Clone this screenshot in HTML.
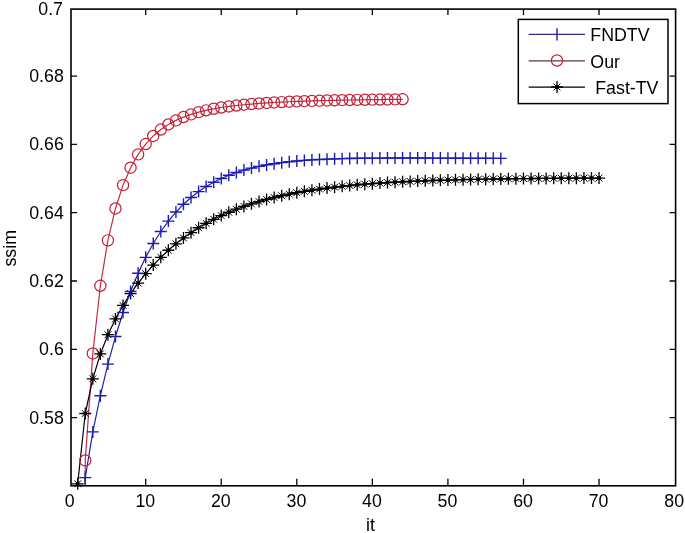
<!DOCTYPE html>
<html><head><meta charset="utf-8"><style>
html,body{margin:0;padding:0;background:#fff;}
svg{display:block;will-change:transform;}
text{font-family:"Liberation Sans",sans-serif;font-size:17.8px;fill:#000;}
</style></head><body>
<svg width="685" height="533" viewBox="0 0 685 533">
<defs><clipPath id="cp"><rect x="71.0" y="9.1" width="604.6" height="476.7"/></clipPath></defs>
<rect width="685" height="533" fill="#fff"/>

<g clip-path="url(#cp)" fill="none" stroke-width="1.2" stroke-linejoin="round">
<polyline points="77.70,1600.00 85.25,460.46 92.81,353.47 100.36,285.76 107.92,240.37 115.47,208.45 123.03,185.16 130.58,167.71 138.14,154.38 145.70,144.05 153.25,135.96 160.81,129.57 168.36,124.47 175.92,120.38 183.47,117.07 191.03,114.38 198.59,112.16 206.14,110.33 213.70,108.81 221.25,107.52 228.81,106.44 236.36,105.52 243.92,104.73 251.47,104.04 259.03,103.45 266.59,102.94 274.14,102.48 281.70,102.08 289.25,101.73 296.81,101.42 304.36,101.14 311.92,100.90 319.47,100.67 327.03,100.48 334.59,100.30 342.14,100.14 349.70,100.00 357.25,99.87 364.81,99.75 372.36,99.65 379.92,99.55 387.48,99.47 395.03,99.39 402.59,99.32" stroke="#c42a40"/>
<polyline points="77.70,483.80 85.25,413.50 92.81,378.87 100.36,353.96 107.92,334.69 115.47,318.90 123.03,305.42 130.58,293.62 138.14,283.10 145.70,273.64 153.25,265.08 160.81,257.31 168.36,250.25 175.92,243.82 183.47,237.96 191.03,232.63 198.59,227.76 206.14,223.33 213.70,219.29 221.25,215.61 228.81,212.26 236.36,209.20 243.92,206.41 251.47,203.87 259.03,201.55 266.59,199.44 274.14,197.51 281.70,195.76 289.25,194.16 296.81,192.70 304.36,191.37 311.92,190.16 319.47,189.06 327.03,188.05 334.59,187.13 342.14,186.29 349.70,185.53 357.25,184.84 364.81,184.20 372.36,183.63 379.92,183.10 387.48,182.62 395.03,182.18 402.59,181.78 410.14,181.42 417.70,181.09 425.25,180.79 432.81,180.51 440.36,180.26 447.92,180.03 455.48,179.82 463.03,179.63 470.59,179.46 478.14,179.30 485.70,179.16 493.25,179.03 500.81,178.91 508.36,178.80 515.92,178.70 523.48,178.61 531.03,178.53 538.59,178.45 546.14,178.38 553.70,178.32 561.25,178.26 568.81,178.21 576.37,178.16 583.92,178.12 591.48,178.08 599.03,178.04" stroke="#000"/>
<polyline points="77.70,1600.00 85.25,477.60 92.81,431.90 100.36,395.72 107.92,364.12 115.47,336.54 123.03,312.48 130.58,291.51 138.14,273.24 145.70,257.34 153.25,243.52 160.81,231.51 168.36,221.09 175.92,212.05 183.47,204.22 191.03,197.44 198.59,191.59 206.14,186.54 213.70,182.19 221.25,178.44 228.81,175.22 236.36,172.47 243.92,170.11 251.47,168.09 259.03,166.37 266.59,164.91 274.14,163.68 281.70,162.63 289.25,161.76 296.81,161.02 304.36,160.41 311.92,159.90 319.47,159.48 327.03,159.14 334.59,158.86 342.14,158.64 349.70,158.46 357.25,158.32 364.81,158.22 372.36,158.14 379.92,158.09 387.48,158.06 395.03,158.04 402.59,158.03 410.14,158.04 417.70,158.05 425.25,158.07 432.81,158.09 440.36,158.12 447.92,158.15 455.48,158.18 463.03,158.22 470.59,158.25 478.14,158.28 485.70,158.32 493.25,158.35 500.81,158.38" stroke="#22229e"/>
</g>
<g fill="none" stroke="#c41e34" stroke-width="1.2">
<circle cx="85.25" cy="460.46" r="5.6"/>
<circle cx="92.81" cy="353.47" r="5.6"/>
<circle cx="100.36" cy="285.76" r="5.6"/>
<circle cx="107.92" cy="240.37" r="5.6"/>
<circle cx="115.47" cy="208.45" r="5.6"/>
<circle cx="123.03" cy="185.16" r="5.6"/>
<circle cx="130.58" cy="167.71" r="5.6"/>
<circle cx="138.14" cy="154.38" r="5.6"/>
<circle cx="145.70" cy="144.05" r="5.6"/>
<circle cx="153.25" cy="135.96" r="5.6"/>
<circle cx="160.81" cy="129.57" r="5.6"/>
<circle cx="168.36" cy="124.47" r="5.6"/>
<circle cx="175.92" cy="120.38" r="5.6"/>
<circle cx="183.47" cy="117.07" r="5.6"/>
<circle cx="191.03" cy="114.38" r="5.6"/>
<circle cx="198.59" cy="112.16" r="5.6"/>
<circle cx="206.14" cy="110.33" r="5.6"/>
<circle cx="213.70" cy="108.81" r="5.6"/>
<circle cx="221.25" cy="107.52" r="5.6"/>
<circle cx="228.81" cy="106.44" r="5.6"/>
<circle cx="236.36" cy="105.52" r="5.6"/>
<circle cx="243.92" cy="104.73" r="5.6"/>
<circle cx="251.47" cy="104.04" r="5.6"/>
<circle cx="259.03" cy="103.45" r="5.6"/>
<circle cx="266.59" cy="102.94" r="5.6"/>
<circle cx="274.14" cy="102.48" r="5.6"/>
<circle cx="281.70" cy="102.08" r="5.6"/>
<circle cx="289.25" cy="101.73" r="5.6"/>
<circle cx="296.81" cy="101.42" r="5.6"/>
<circle cx="304.36" cy="101.14" r="5.6"/>
<circle cx="311.92" cy="100.90" r="5.6"/>
<circle cx="319.47" cy="100.67" r="5.6"/>
<circle cx="327.03" cy="100.48" r="5.6"/>
<circle cx="334.59" cy="100.30" r="5.6"/>
<circle cx="342.14" cy="100.14" r="5.6"/>
<circle cx="349.70" cy="100.00" r="5.6"/>
<circle cx="357.25" cy="99.87" r="5.6"/>
<circle cx="364.81" cy="99.75" r="5.6"/>
<circle cx="372.36" cy="99.65" r="5.6"/>
<circle cx="379.92" cy="99.55" r="5.6"/>
<circle cx="387.48" cy="99.47" r="5.6"/>
<circle cx="395.03" cy="99.39" r="5.6"/>
<circle cx="402.59" cy="99.32" r="5.6"/>
</g>
<path fill="none" stroke="#000" stroke-width="1.3" d="M71.70,483.80H83.70M77.70,477.80V489.80M79.25,413.50H91.25M85.25,407.50V419.50M86.81,378.87H98.81M92.81,372.87V384.87M94.36,353.96H106.36M100.36,347.96V359.96M101.92,334.69H113.92M107.92,328.69V340.69M109.47,318.90H121.47M115.47,312.90V324.90M117.03,305.42H129.03M123.03,299.42V311.42M124.58,293.62H136.58M130.58,287.62V299.62M132.14,283.10H144.14M138.14,277.10V289.10M139.70,273.64H151.70M145.70,267.64V279.64M147.25,265.08H159.25M153.25,259.08V271.08M154.81,257.31H166.81M160.81,251.31V263.31M162.36,250.25H174.36M168.36,244.25V256.25M169.92,243.82H181.92M175.92,237.82V249.82M177.47,237.96H189.47M183.47,231.96V243.96M185.03,232.63H197.03M191.03,226.63V238.63M192.59,227.76H204.59M198.59,221.76V233.76M200.14,223.33H212.14M206.14,217.33V229.33M207.70,219.29H219.70M213.70,213.29V225.29M215.25,215.61H227.25M221.25,209.61V221.61M222.81,212.26H234.81M228.81,206.26V218.26M230.36,209.20H242.36M236.36,203.20V215.20M237.92,206.41H249.92M243.92,200.41V212.41M245.47,203.87H257.47M251.47,197.87V209.87M253.03,201.55H265.03M259.03,195.55V207.55M260.59,199.44H272.59M266.59,193.44V205.44M268.14,197.51H280.14M274.14,191.51V203.51M275.70,195.76H287.70M281.70,189.76V201.76M283.25,194.16H295.25M289.25,188.16V200.16M290.81,192.70H302.81M296.81,186.70V198.70M298.36,191.37H310.36M304.36,185.37V197.37M305.92,190.16H317.92M311.92,184.16V196.16M313.47,189.06H325.47M319.47,183.06V195.06M321.03,188.05H333.03M327.03,182.05V194.05M328.59,187.13H340.59M334.59,181.13V193.13M336.14,186.29H348.14M342.14,180.29V192.29M343.70,185.53H355.70M349.70,179.53V191.53M351.25,184.84H363.25M357.25,178.84V190.84M358.81,184.20H370.81M364.81,178.20V190.20M366.36,183.63H378.36M372.36,177.63V189.63M373.92,183.10H385.92M379.92,177.10V189.10M381.48,182.62H393.48M387.48,176.62V188.62M389.03,182.18H401.03M395.03,176.18V188.18M396.59,181.78H408.59M402.59,175.78V187.78M404.14,181.42H416.14M410.14,175.42V187.42M411.70,181.09H423.70M417.70,175.09V187.09M419.25,180.79H431.25M425.25,174.79V186.79M426.81,180.51H438.81M432.81,174.51V186.51M434.36,180.26H446.36M440.36,174.26V186.26M441.92,180.03H453.92M447.92,174.03V186.03M449.48,179.82H461.48M455.48,173.82V185.82M457.03,179.63H469.03M463.03,173.63V185.63M464.59,179.46H476.59M470.59,173.46V185.46M472.14,179.30H484.14M478.14,173.30V185.30M479.70,179.16H491.70M485.70,173.16V185.16M487.25,179.03H499.25M493.25,173.03V185.03M494.81,178.91H506.81M500.81,172.91V184.91M502.36,178.80H514.36M508.36,172.80V184.80M509.92,178.70H521.92M515.92,172.70V184.70M517.48,178.61H529.48M523.48,172.61V184.61M525.03,178.53H537.03M531.03,172.53V184.53M532.59,178.45H544.59M538.59,172.45V184.45M540.14,178.38H552.14M546.14,172.38V184.38M547.70,178.32H559.70M553.70,172.32V184.32M555.25,178.26H567.25M561.25,172.26V184.26M562.81,178.21H574.81M568.81,172.21V184.21M570.37,178.16H582.37M576.37,172.16V184.16M577.92,178.12H589.92M583.92,172.12V184.12M585.48,178.08H597.48M591.48,172.08V184.08M593.03,178.04H605.03M599.03,172.04V184.04"/>
<path fill="none" stroke="#000" stroke-width="1.0" d="M74.30,480.40L81.10,487.20M74.30,487.20L81.10,480.40M81.85,410.10L88.65,416.90M81.85,416.90L88.65,410.10M89.41,375.47L96.21,382.27M89.41,382.27L96.21,375.47M96.96,350.56L103.76,357.36M96.96,357.36L103.76,350.56M104.52,331.29L111.32,338.09M104.52,338.09L111.32,331.29M112.07,315.50L118.87,322.30M112.07,322.30L118.87,315.50M119.63,302.02L126.43,308.82M119.63,308.82L126.43,302.02M127.18,290.22L133.98,297.02M127.18,297.02L133.98,290.22M134.74,279.70L141.54,286.50M134.74,286.50L141.54,279.70M142.30,270.24L149.10,277.04M142.30,277.04L149.10,270.24M149.85,261.68L156.65,268.48M149.85,268.48L156.65,261.68M157.41,253.91L164.21,260.71M157.41,260.71L164.21,253.91M164.96,246.85L171.76,253.65M164.96,253.65L171.76,246.85M172.52,240.42L179.32,247.22M172.52,247.22L179.32,240.42M180.07,234.56L186.87,241.36M180.07,241.36L186.87,234.56M187.63,229.23L194.43,236.03M187.63,236.03L194.43,229.23M195.19,224.36L201.99,231.16M195.19,231.16L201.99,224.36M202.74,219.93L209.54,226.73M202.74,226.73L209.54,219.93M210.30,215.89L217.10,222.69M210.30,222.69L217.10,215.89M217.85,212.21L224.65,219.01M217.85,219.01L224.65,212.21M225.41,208.86L232.21,215.66M225.41,215.66L232.21,208.86M232.96,205.80L239.76,212.60M232.96,212.60L239.76,205.80M240.52,203.01L247.32,209.81M240.52,209.81L247.32,203.01M248.07,200.47L254.87,207.27M248.07,207.27L254.87,200.47M255.63,198.15L262.43,204.95M255.63,204.95L262.43,198.15M263.19,196.04L269.99,202.84M263.19,202.84L269.99,196.04M270.74,194.11L277.54,200.91M270.74,200.91L277.54,194.11M278.30,192.36L285.10,199.16M278.30,199.16L285.10,192.36M285.85,190.76L292.65,197.56M285.85,197.56L292.65,190.76M293.41,189.30L300.21,196.10M293.41,196.10L300.21,189.30M300.96,187.97L307.76,194.77M300.96,194.77L307.76,187.97M308.52,186.76L315.32,193.56M308.52,193.56L315.32,186.76M316.07,185.66L322.87,192.46M316.07,192.46L322.87,185.66M323.63,184.65L330.43,191.45M323.63,191.45L330.43,184.65M331.19,183.73L337.99,190.53M331.19,190.53L337.99,183.73M338.74,182.89L345.54,189.69M338.74,189.69L345.54,182.89M346.30,182.13L353.10,188.93M346.30,188.93L353.10,182.13M353.85,181.44L360.65,188.24M353.85,188.24L360.65,181.44M361.41,180.80L368.21,187.60M361.41,187.60L368.21,180.80M368.96,180.23L375.76,187.03M368.96,187.03L375.76,180.23M376.52,179.70L383.32,186.50M376.52,186.50L383.32,179.70M384.08,179.22L390.88,186.02M384.08,186.02L390.88,179.22M391.63,178.78L398.43,185.58M391.63,185.58L398.43,178.78M399.19,178.38L405.99,185.18M399.19,185.18L405.99,178.38M406.74,178.02L413.54,184.82M406.74,184.82L413.54,178.02M414.30,177.69L421.10,184.49M414.30,184.49L421.10,177.69M421.85,177.39L428.65,184.19M421.85,184.19L428.65,177.39M429.41,177.11L436.21,183.91M429.41,183.91L436.21,177.11M436.96,176.86L443.76,183.66M436.96,183.66L443.76,176.86M444.52,176.63L451.32,183.43M444.52,183.43L451.32,176.63M452.08,176.42L458.88,183.22M452.08,183.22L458.88,176.42M459.63,176.23L466.43,183.03M459.63,183.03L466.43,176.23M467.19,176.06L473.99,182.86M467.19,182.86L473.99,176.06M474.74,175.90L481.54,182.70M474.74,182.70L481.54,175.90M482.30,175.76L489.10,182.56M482.30,182.56L489.10,175.76M489.85,175.63L496.65,182.43M489.85,182.43L496.65,175.63M497.41,175.51L504.21,182.31M497.41,182.31L504.21,175.51M504.96,175.40L511.76,182.20M504.96,182.20L511.76,175.40M512.52,175.30L519.32,182.10M512.52,182.10L519.32,175.30M520.08,175.21L526.88,182.01M520.08,182.01L526.88,175.21M527.63,175.13L534.43,181.93M527.63,181.93L534.43,175.13M535.19,175.05L541.99,181.85M535.19,181.85L541.99,175.05M542.74,174.98L549.54,181.78M542.74,181.78L549.54,174.98M550.30,174.92L557.10,181.72M550.30,181.72L557.10,174.92M557.85,174.86L564.65,181.66M557.85,181.66L564.65,174.86M565.41,174.81L572.21,181.61M565.41,181.61L572.21,174.81M572.97,174.76L579.77,181.56M572.97,181.56L579.77,174.76M580.52,174.72L587.32,181.52M580.52,181.52L587.32,174.72M588.08,174.68L594.88,181.48M588.08,181.48L594.88,174.68M595.63,174.64L602.43,181.44M595.63,181.44L602.43,174.64"/>
<g fill="#000"><circle cx="77.70" cy="483.80" r="2.0"/><circle cx="85.25" cy="413.50" r="2.0"/><circle cx="92.81" cy="378.87" r="2.0"/><circle cx="100.36" cy="353.96" r="2.0"/><circle cx="107.92" cy="334.69" r="2.0"/><circle cx="115.47" cy="318.90" r="2.0"/><circle cx="123.03" cy="305.42" r="2.0"/><circle cx="130.58" cy="293.62" r="2.0"/><circle cx="138.14" cy="283.10" r="2.0"/><circle cx="145.70" cy="273.64" r="2.0"/><circle cx="153.25" cy="265.08" r="2.0"/><circle cx="160.81" cy="257.31" r="2.0"/><circle cx="168.36" cy="250.25" r="2.0"/><circle cx="175.92" cy="243.82" r="2.0"/><circle cx="183.47" cy="237.96" r="2.0"/><circle cx="191.03" cy="232.63" r="2.0"/><circle cx="198.59" cy="227.76" r="2.0"/><circle cx="206.14" cy="223.33" r="2.0"/><circle cx="213.70" cy="219.29" r="2.0"/><circle cx="221.25" cy="215.61" r="2.0"/><circle cx="228.81" cy="212.26" r="2.0"/><circle cx="236.36" cy="209.20" r="2.0"/><circle cx="243.92" cy="206.41" r="2.0"/><circle cx="251.47" cy="203.87" r="2.0"/><circle cx="259.03" cy="201.55" r="2.0"/><circle cx="266.59" cy="199.44" r="2.0"/><circle cx="274.14" cy="197.51" r="2.0"/><circle cx="281.70" cy="195.76" r="2.0"/><circle cx="289.25" cy="194.16" r="2.0"/><circle cx="296.81" cy="192.70" r="2.0"/><circle cx="304.36" cy="191.37" r="2.0"/><circle cx="311.92" cy="190.16" r="2.0"/><circle cx="319.47" cy="189.06" r="2.0"/><circle cx="327.03" cy="188.05" r="2.0"/><circle cx="334.59" cy="187.13" r="2.0"/><circle cx="342.14" cy="186.29" r="2.0"/><circle cx="349.70" cy="185.53" r="2.0"/><circle cx="357.25" cy="184.84" r="2.0"/><circle cx="364.81" cy="184.20" r="2.0"/><circle cx="372.36" cy="183.63" r="2.0"/><circle cx="379.92" cy="183.10" r="2.0"/><circle cx="387.48" cy="182.62" r="2.0"/><circle cx="395.03" cy="182.18" r="2.0"/><circle cx="402.59" cy="181.78" r="2.0"/><circle cx="410.14" cy="181.42" r="2.0"/><circle cx="417.70" cy="181.09" r="2.0"/><circle cx="425.25" cy="180.79" r="2.0"/><circle cx="432.81" cy="180.51" r="2.0"/><circle cx="440.36" cy="180.26" r="2.0"/><circle cx="447.92" cy="180.03" r="2.0"/><circle cx="455.48" cy="179.82" r="2.0"/><circle cx="463.03" cy="179.63" r="2.0"/><circle cx="470.59" cy="179.46" r="2.0"/><circle cx="478.14" cy="179.30" r="2.0"/><circle cx="485.70" cy="179.16" r="2.0"/><circle cx="493.25" cy="179.03" r="2.0"/><circle cx="500.81" cy="178.91" r="2.0"/><circle cx="508.36" cy="178.80" r="2.0"/><circle cx="515.92" cy="178.70" r="2.0"/><circle cx="523.48" cy="178.61" r="2.0"/><circle cx="531.03" cy="178.53" r="2.0"/><circle cx="538.59" cy="178.45" r="2.0"/><circle cx="546.14" cy="178.38" r="2.0"/><circle cx="553.70" cy="178.32" r="2.0"/><circle cx="561.25" cy="178.26" r="2.0"/><circle cx="568.81" cy="178.21" r="2.0"/><circle cx="576.37" cy="178.16" r="2.0"/><circle cx="583.92" cy="178.12" r="2.0"/><circle cx="591.48" cy="178.08" r="2.0"/><circle cx="599.03" cy="178.04" r="2.0"/></g>
<path fill="none" stroke="#1a1ab8" stroke-width="1.4" d="M79.25,477.60H91.25M85.25,471.60V483.60M86.81,431.90H98.81M92.81,425.90V437.90M94.36,395.72H106.36M100.36,389.72V401.72M101.92,364.12H113.92M107.92,358.12V370.12M109.47,336.54H121.47M115.47,330.54V342.54M117.03,312.48H129.03M123.03,306.48V318.48M124.58,291.51H136.58M130.58,285.51V297.51M132.14,273.24H144.14M138.14,267.24V279.24M139.70,257.34H151.70M145.70,251.34V263.34M147.25,243.52H159.25M153.25,237.52V249.52M154.81,231.51H166.81M160.81,225.51V237.51M162.36,221.09H174.36M168.36,215.09V227.09M169.92,212.05H181.92M175.92,206.05V218.05M177.47,204.22H189.47M183.47,198.22V210.22M185.03,197.44H197.03M191.03,191.44V203.44M192.59,191.59H204.59M198.59,185.59V197.59M200.14,186.54H212.14M206.14,180.54V192.54M207.70,182.19H219.70M213.70,176.19V188.19M215.25,178.44H227.25M221.25,172.44V184.44M222.81,175.22H234.81M228.81,169.22V181.22M230.36,172.47H242.36M236.36,166.47V178.47M237.92,170.11H249.92M243.92,164.11V176.11M245.47,168.09H257.47M251.47,162.09V174.09M253.03,166.37H265.03M259.03,160.37V172.37M260.59,164.91H272.59M266.59,158.91V170.91M268.14,163.68H280.14M274.14,157.68V169.68M275.70,162.63H287.70M281.70,156.63V168.63M283.25,161.76H295.25M289.25,155.76V167.76M290.81,161.02H302.81M296.81,155.02V167.02M298.36,160.41H310.36M304.36,154.41V166.41M305.92,159.90H317.92M311.92,153.90V165.90M313.47,159.48H325.47M319.47,153.48V165.48M321.03,159.14H333.03M327.03,153.14V165.14M328.59,158.86H340.59M334.59,152.86V164.86M336.14,158.64H348.14M342.14,152.64V164.64M343.70,158.46H355.70M349.70,152.46V164.46M351.25,158.32H363.25M357.25,152.32V164.32M358.81,158.22H370.81M364.81,152.22V164.22M366.36,158.14H378.36M372.36,152.14V164.14M373.92,158.09H385.92M379.92,152.09V164.09M381.48,158.06H393.48M387.48,152.06V164.06M389.03,158.04H401.03M395.03,152.04V164.04M396.59,158.03H408.59M402.59,152.03V164.03M404.14,158.04H416.14M410.14,152.04V164.04M411.70,158.05H423.70M417.70,152.05V164.05M419.25,158.07H431.25M425.25,152.07V164.07M426.81,158.09H438.81M432.81,152.09V164.09M434.36,158.12H446.36M440.36,152.12V164.12M441.92,158.15H453.92M447.92,152.15V164.15M449.48,158.18H461.48M455.48,152.18V164.18M457.03,158.22H469.03M463.03,152.22V164.22M464.59,158.25H476.59M470.59,152.25V164.25M472.14,158.28H484.14M478.14,152.28V164.28M479.70,158.32H491.70M485.70,152.32V164.32M487.25,158.35H499.25M493.25,152.35V164.35M494.81,158.38H506.81M500.81,152.38V164.38"/>
<path fill="none" stroke="#000" stroke-width="1.3" d="M145.70,485.8V478.8M145.70,9.1V15.1M221.25,485.8V478.8M221.25,9.1V15.1M296.81,485.8V478.8M296.81,9.1V15.1M372.36,485.8V478.8M372.36,9.1V15.1M447.92,485.8V478.8M447.92,9.1V15.1M523.48,485.8V478.8M523.48,9.1V15.1M599.03,485.8V478.8M599.03,9.1V15.1M71.0,417.60H77.0M675.6,417.60H669.6M71.0,349.30H77.0M675.6,349.30H669.6M71.0,281.00H77.0M675.6,281.00H669.6M71.0,212.70H77.0M675.6,212.70H669.6M71.0,144.40H77.0M675.6,144.40H669.6M71.0,76.10H77.0M675.6,76.10H669.6"/>
<rect x="71.0" y="9.1" width="604.60" height="476.70" fill="none" stroke="#000" stroke-width="1.6"/>
<text transform="translate(0,500.20) scale(1,1.075) translate(0,-500.20)" x="69.74" y="506.60" text-anchor="middle">0</text>
<text transform="translate(0,500.20) scale(1,1.075) translate(0,-500.20)" x="145.30" y="506.60" text-anchor="middle">10</text>
<text transform="translate(0,500.20) scale(1,1.075) translate(0,-500.20)" x="220.85" y="506.60" text-anchor="middle">20</text>
<text transform="translate(0,500.20) scale(1,1.075) translate(0,-500.20)" x="296.41" y="506.60" text-anchor="middle">30</text>
<text transform="translate(0,500.20) scale(1,1.075) translate(0,-500.20)" x="371.96" y="506.60" text-anchor="middle">40</text>
<text transform="translate(0,500.20) scale(1,1.075) translate(0,-500.20)" x="447.52" y="506.60" text-anchor="middle">50</text>
<text transform="translate(0,500.20) scale(1,1.075) translate(0,-500.20)" x="523.08" y="506.60" text-anchor="middle">60</text>
<text transform="translate(0,500.20) scale(1,1.075) translate(0,-500.20)" x="598.63" y="506.60" text-anchor="middle">70</text>
<text transform="translate(0,500.20) scale(1,1.075) translate(0,-500.20)" x="674.19" y="506.60" text-anchor="middle">80</text>
<text transform="translate(0,416.70) scale(1,1.075) translate(0,-416.70)" x="63.80" y="423.10" text-anchor="end">0.58</text>
<text transform="translate(0,348.40) scale(1,1.075) translate(0,-348.40)" x="63.80" y="354.80" text-anchor="end">0.6</text>
<text transform="translate(0,280.10) scale(1,1.075) translate(0,-280.10)" x="63.80" y="286.50" text-anchor="end">0.62</text>
<text transform="translate(0,211.80) scale(1,1.075) translate(0,-211.80)" x="63.80" y="218.20" text-anchor="end">0.64</text>
<text transform="translate(0,143.50) scale(1,1.075) translate(0,-143.50)" x="63.80" y="149.90" text-anchor="end">0.66</text>
<text transform="translate(0,75.20) scale(1,1.075) translate(0,-75.20)" x="63.80" y="81.60" text-anchor="end">0.68</text>
<text transform="translate(0,8.20) scale(1,1.075) translate(0,-8.20)" x="63.00" y="14.60" text-anchor="end">0.7</text>
<text x="370.5" y="531" text-anchor="middle">it</text>
<text transform="translate(15.6,248.3) rotate(-90)" text-anchor="middle">ssim</text>
<rect x="518.3" y="19.4" width="149.7" height="84.2" fill="#fff" stroke="#000" stroke-width="1.5"/>
<path d="M528.7,34.3H585" stroke="#322e84" stroke-width="1.35"/>
<path d="M557,28.2V40.4" stroke="#1e1aa0" stroke-width="1.4" fill="none"/>
<path d="M528.7,60.8H585" stroke="#583840" stroke-width="1.35"/>
<circle cx="557" cy="60.5" r="5.6" fill="none" stroke="#c41e34" stroke-width="1.2"/>
<path d="M528.7,87.05H585" stroke="#000" stroke-width="1.35"/>
<path d="M551.00,87.00H563.00M557.00,81.00V93.00" stroke="#000" stroke-width="1.3" fill="none"/>
<path d="M553.60,83.60L560.40,90.40M553.60,90.40L560.40,83.60" stroke="#000" stroke-width="1.0" fill="none"/>
<circle cx="557" cy="87.0" r="2.0" fill="#000"/>
<text transform="translate(0,34.60) scale(1,1.075) translate(0,-34.60)" x="590.30" y="41.00">FNDTV</text>
<text transform="translate(0,61.10) scale(1,1.075) translate(0,-61.10)" x="590.30" y="67.50">Our</text>
<text transform="translate(0,87.60) scale(1,1.075) translate(0,-87.60)" x="590.30" y="94.00" xml:space="preserve"> Fast-TV</text>
</svg></body></html>
